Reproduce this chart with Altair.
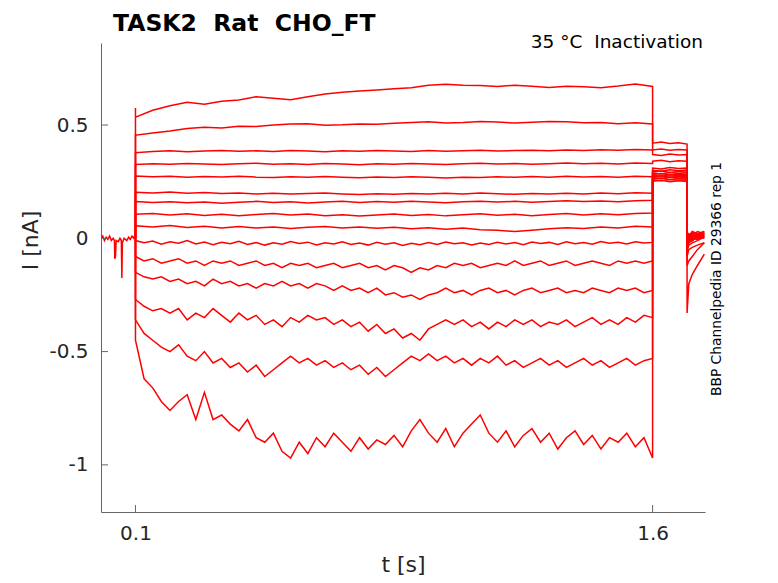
import numpy as np
import pandas as pd
import altair as alt

# ---------------- data ----------------
TRACES = ["A", "B", "C", "D", "E", "F", "G", "H", "I", "J", "K", "L", "M", "N", "O"]
FINE = ["J", "K", "L", "M", "N", "O"]

T_COARSE = [round(0.1 + 0.05 * i, 3) for i in range(31)]
T_FINE = [round(0.1 + 0.025 * i, 3) for i in range(61)]
T_TAIL = [1.6, 1.625, 1.65, 1.675, 1.70]
T_POST = [1.70, 1.705, 1.715, 1.73, 1.75]

# baseline before the step
T_BASE = [0.0, 0.005, 0.01, 0.015, 0.02, 0.025, 0.03, 0.035, 0.039, 0.04, 0.042, 0.044,
          0.05, 0.055, 0.059, 0.0605, 0.062, 0.067, 0.075, 0.08, 0.085, 0.09, 0.095, 0.1]
V_BASE = [0.0, 0.01, -0.01, 0.005, -0.005, 0.01, -0.01, 0.0, -0.01, -0.09, -0.08, -0.01,
          -0.015, 0.0, -0.01, -0.175, -0.02, 0.0, -0.01, 0.005, -0.005, 0.01, 0.0, 0.02]

# value right at the step onset
ONSET = {"A": 0.575, "B": 0.46, "C": 0.38, "D": 0.33, "E": 0.275, "F": 0.205, "G": 0.165,
         "H": 0.11, "I": 0.058, "J": -0.01, "K": -0.08, "L": -0.15, "M": -0.27,
         "N": -0.36, "O": -0.45}

MAIN = {
    "A": [0.535, 0.565, 0.585, 0.60, 0.592, 0.605, 0.61, 0.625, 0.618, 0.612, 0.625,
          0.637, 0.645, 0.65, 0.655, 0.66, 0.665, 0.675, 0.68, 0.676, 0.674, 0.67,
          0.676, 0.671, 0.666, 0.671, 0.669, 0.665, 0.672, 0.681, 0.67],
    "B": [0.455, 0.465, 0.474, 0.485, 0.49, 0.487, 0.495, 0.493, 0.50, 0.504, 0.506,
          0.499, 0.501, 0.505, 0.503, 0.508, 0.511, 0.514, 0.509, 0.511, 0.515, 0.513,
          0.509, 0.512, 0.516, 0.514, 0.51, 0.511, 0.506, 0.51, 0.505],
    "C": [0.378, 0.383, 0.386, 0.382, 0.385, 0.388, 0.384, 0.386, 0.383, 0.387, 0.385,
          0.382, 0.386, 0.384, 0.388, 0.385, 0.383, 0.387, 0.384, 0.386, 0.389, 0.385,
          0.387, 0.389, 0.386, 0.39, 0.388, 0.391, 0.389, 0.392, 0.39],
    "D": [0.326, 0.329, 0.327, 0.33, 0.328, 0.326, 0.329, 0.331, 0.327, 0.329, 0.326,
          0.33, 0.328, 0.325, 0.329, 0.327, 0.33, 0.328, 0.326, 0.329, 0.331, 0.328,
          0.33, 0.327, 0.329, 0.332, 0.329, 0.331, 0.328, 0.332, 0.33],
    "E": [0.275, 0.272, 0.274, 0.27, 0.273, 0.271, 0.274, 0.27, 0.268, 0.272, 0.269,
          0.273, 0.27, 0.267, 0.271, 0.268, 0.272, 0.27, 0.266, 0.27, 0.268, 0.272,
          0.269, 0.273, 0.27, 0.274, 0.271, 0.273, 0.27, 0.274, 0.272],
    "F": [0.203, 0.2, 0.204, 0.199, 0.202, 0.198, 0.2, 0.196, 0.199, 0.195, 0.198,
          0.2, 0.196, 0.193, 0.197, 0.194, 0.198, 0.195, 0.199, 0.196, 0.2, 0.197,
          0.194, 0.198, 0.195, 0.199, 0.196, 0.2, 0.197, 0.201, 0.199],
    "G": [0.162, 0.158, 0.161, 0.157, 0.16, 0.155, 0.159, 0.163, 0.158, 0.161, 0.156,
          0.16, 0.163, 0.158, 0.162, 0.159, 0.163, 0.16, 0.157, 0.161, 0.164, 0.16,
          0.163, 0.159, 0.162, 0.166, 0.162, 0.165, 0.161, 0.166, 0.168],
    "H": [0.106, 0.11, 0.103, 0.108, 0.101, 0.106, 0.1, 0.105, 0.109, 0.103, 0.107,
          0.1, 0.104, 0.098, 0.103, 0.107, 0.101, 0.105, 0.099, 0.104, 0.108, 0.102,
          0.106, 0.1, 0.105, 0.109, 0.103, 0.108, 0.104, 0.11, 0.112],
    "I": [0.055, 0.05, 0.056, 0.048, 0.053, 0.046, 0.052, 0.045, 0.05, 0.043, 0.049,
          0.052, 0.046, 0.05, 0.044, 0.049, 0.042, 0.047, 0.04, 0.045, 0.038, 0.035,
          0.03, 0.036, 0.042, 0.047, 0.043, 0.05, 0.046, 0.053, 0.05],
    "J": [-0.010, -0.020, -0.012, -0.026, -0.015, -0.022, -0.010, -0.025, -0.016, -0.028,
          -0.018, -0.024, -0.013, -0.027, -0.019, -0.030, -0.020, -0.026, -0.014, -0.023,
          -0.017, -0.029, -0.020, -0.025, -0.015, -0.027, -0.021, -0.030, -0.018, -0.026,
          -0.020, -0.032, -0.022, -0.028, -0.019, -0.027, -0.016, -0.024, -0.020, -0.030,
          -0.021, -0.027, -0.017, -0.025, -0.019, -0.028, -0.016, -0.023, -0.018, -0.027,
          -0.015, -0.024, -0.019, -0.026, -0.014, -0.022, -0.017, -0.025, -0.015, -0.021,
          -0.018],
    "K": [-0.08, -0.10, -0.09, -0.11, -0.10, -0.09, -0.11, -0.10, -0.12, -0.10,
          -0.11, -0.10, -0.12, -0.11, -0.10, -0.12, -0.11, -0.13, -0.11, -0.12,
          -0.11, -0.13, -0.12, -0.11, -0.13, -0.12, -0.11, -0.13, -0.12, -0.14,
          -0.12, -0.13, -0.15, -0.13, -0.14, -0.12, -0.13, -0.11, -0.12, -0.11,
          -0.13, -0.12, -0.11, -0.12, -0.10, -0.12, -0.11, -0.10, -0.12, -0.11,
          -0.10, -0.12, -0.11, -0.10, -0.11, -0.12, -0.10, -0.11, -0.10, -0.11,
          -0.10],
    "L": [-0.15, -0.17, -0.18, -0.17, -0.19, -0.18, -0.20, -0.19, -0.21, -0.18,
          -0.20, -0.19, -0.21, -0.20, -0.22, -0.20, -0.21, -0.19, -0.21, -0.20,
          -0.22, -0.20, -0.21, -0.23, -0.21, -0.23, -0.22, -0.24, -0.22, -0.25,
          -0.24, -0.26, -0.25, -0.27, -0.25, -0.24, -0.22, -0.24, -0.23, -0.25,
          -0.23, -0.22, -0.24, -0.23, -0.25, -0.23, -0.22, -0.24, -0.23, -0.22,
          -0.24, -0.23, -0.24, -0.22, -0.23, -0.24, -0.22, -0.23, -0.22, -0.24,
          -0.23],
    "M": [-0.27, -0.30, -0.32, -0.31, -0.33, -0.31, -0.36, -0.33, -0.35, -0.31,
          -0.34, -0.37, -0.33, -0.36, -0.34, -0.38, -0.36, -0.39, -0.35, -0.37,
          -0.34, -0.36, -0.35, -0.38, -0.36, -0.39, -0.37, -0.41, -0.38, -0.42,
          -0.40, -0.44, -0.42, -0.45, -0.40, -0.38, -0.36, -0.38, -0.36, -0.39,
          -0.37, -0.40, -0.37, -0.39, -0.36, -0.38, -0.36, -0.39, -0.37, -0.38,
          -0.36, -0.39, -0.37, -0.35, -0.38, -0.36, -0.38, -0.35, -0.37, -0.34,
          -0.35],
    "N": [-0.36, -0.42, -0.45, -0.48, -0.50, -0.47, -0.52, -0.54, -0.50, -0.55,
          -0.53, -0.57, -0.55, -0.59, -0.56, -0.61, -0.58, -0.55, -0.52, -0.55,
          -0.53, -0.56, -0.54, -0.57, -0.55, -0.58, -0.56, -0.60, -0.57, -0.61,
          -0.58, -0.55, -0.52, -0.54, -0.51, -0.54, -0.52, -0.55, -0.53, -0.56,
          -0.53, -0.55, -0.52, -0.56, -0.54, -0.57, -0.55, -0.53, -0.56, -0.54,
          -0.57, -0.55, -0.53, -0.56, -0.54, -0.57, -0.55, -0.53, -0.56, -0.54,
          -0.53],
    "O": [-0.45, -0.62, -0.66, -0.72, -0.76, -0.72, -0.69, -0.80, -0.68, -0.80,
          -0.78, -0.82, -0.85, -0.80, -0.88, -0.90, -0.86, -0.94, -0.97, -0.90,
          -0.95, -0.88, -0.92, -0.86, -0.90, -0.94, -0.88, -0.93, -0.89, -0.91,
          -0.87, -0.92, -0.85, -0.80, -0.86, -0.90, -0.84, -0.92, -0.86, -0.82,
          -0.78, -0.86, -0.90, -0.85, -0.92, -0.87, -0.84, -0.90, -0.86, -0.93,
          -0.88, -0.85, -0.91, -0.87, -0.93, -0.88, -0.90, -0.86, -0.92, -0.88,
          -0.97],
}

TAIL = {
    "A": [0.42, 0.425, 0.418, 0.422, 0.416],
    "B": [0.39, 0.394, 0.389, 0.392, 0.39],
    "C": [0.37, 0.366, 0.372, 0.368, 0.37],
    "D": [0.34, 0.344, 0.338, 0.342, 0.34],
    "E": [0.31, 0.306, 0.312, 0.308, 0.31],
    "F": [0.30, 0.296, 0.303, 0.298, 0.301],
    "G": [0.293, 0.297, 0.29, 0.295, 0.292],
    "H": [0.288, 0.284, 0.29, 0.286, 0.289],
    "I": [0.282, 0.286, 0.279, 0.284, 0.281],
    "J": [0.278, 0.274, 0.28, 0.276, 0.279],
    "K": [0.272, 0.276, 0.27, 0.274, 0.271],
    "L": [0.268, 0.264, 0.27, 0.266, 0.268],
    "M": [0.262, 0.266, 0.26, 0.264, 0.261],
    "N": [0.258, 0.254, 0.26, 0.256, 0.258],
    "O": [0.252, 0.256, 0.25, 0.254, 0.251],
}

POST = {
    "A": [0.03, 0.01, 0.03, 0.02, 0.03],
    "B": [0.02, 0.0, 0.025, 0.015, 0.03],
    "C": [0.0, 0.02, 0.01, 0.03, 0.02],
    "D": [0.01, -0.01, 0.02, 0.005, 0.02],
    "E": [-0.02, 0.01, 0.0, 0.02, 0.01],
    "F": [0.0, 0.015, -0.005, 0.01, 0.025],
    "G": [-0.01, 0.005, 0.015, 0.0, 0.015],
    "H": [-0.03, -0.005, 0.01, 0.015, 0.005],
    "I": [-0.02, 0.0, -0.01, 0.01, 0.02],
    "J": [-0.04, -0.015, 0.0, -0.005, 0.01],
    "K": [-0.05, -0.02, -0.01, 0.005, 0.0],
    "L": [-0.06, -0.03, -0.02, -0.01, 0.005],
    "M": [-0.08, -0.05, -0.04, -0.03, -0.02],
    "N": [-0.12, -0.10, -0.08, -0.05, -0.02],
    "O": [-0.33, -0.20, -0.16, -0.12, -0.07],
}

X_TICKS = [0.1, 1.6]
Y_TICKS = [0.5, 0, -0.5, -1]
X_DOMAIN = [0.0, 1.752]
Y_DOMAIN = [-1.208, 0.862]

NB = "\u00a0"
TITLE_TEXT = "TASK2" + NB * 2 + "Rat" + NB * 2 + "CHO_FT"
COND_TEXT = "35" + NB + "°C" + NB * 2 + "Inactivation"
SIDE_TEXT = "BBP Channelpedia ID 29366 rep 1"

# ---------------- build tables ----------------
rows = []
for name in TRACES:
    seq = 0
    pts = [(0.1, 0.0), (0.1, ONSET[name])]
    grid = T_FINE if name in FINE else T_COARSE
    pts += list(zip(grid, MAIN[name]))
    pts += list(zip(T_TAIL, TAIL[name]))
    pts += list(zip(T_POST, POST[name]))
    for t, v in pts:
        rows.append({"trace": name, "seq": seq, "t": t, "I": v})
        seq += 1
for i, (t, v) in enumerate(zip(T_BASE, V_BASE)):
    rows.append({"trace": "base", "seq": i, "t": t, "I": v})
df = pd.DataFrame(rows)

FONT = "DejaVu Sans"
AX = "#666666"
TXT = "#262626"
W, H = 604, 469

xenc = alt.X("t:Q", scale=alt.Scale(domain=X_DOMAIN, nice=False, zero=False),
             axis=alt.Axis(values=X_TICKS, labelExpr="toString(datum.value)", title="t [s]",
                           tickSize=0, grid=False, domainColor=AX, labelFont=FONT,
                           labelFontSize=20, labelColor=TXT, labelPadding=11,
                           titleFont=FONT, titleFontSize=22, titleFontWeight="normal",
                           titleColor=TXT, titleX=W / 2, titleY=59, titleBaseline="alphabetic",
                           labelFlush=False))
yenc = alt.Y("I:Q", scale=alt.Scale(domain=Y_DOMAIN, nice=False, zero=False),
             axis=alt.Axis(values=Y_TICKS, labelExpr="toString(datum.value)", title="I [nA]",
                           tickSize=0, grid=False, domainColor=AX, labelFont=FONT,
                           labelFontSize=20, labelColor=TXT, labelPadding=13,
                           titleFont=FONT, titleFontSize=22, titleFontWeight="normal",
                           titleColor=TXT, titleX=-71, titleY=197, titleAngle=270,
                           titleBaseline="middle", titleAlign="center", labelFlush=False))

lines = alt.Chart(df).mark_line(color="#ff0000", strokeWidth=1.5, clip=True).encode(
    x=xenc, y=yenc, detail="trace:N", order="seq:Q")

xt = alt.Chart(pd.DataFrame({"t": X_TICKS})).mark_rule(color=AX, strokeWidth=1).encode(
    x=xenc, y=alt.value(H), y2=alt.value(H - 7))
yt = alt.Chart(pd.DataFrame({"I": Y_TICKS})).mark_rule(color=AX, strokeWidth=1).encode(
    y=yenc, x=alt.value(0), x2=alt.value(7))

title = alt.Chart(pd.DataFrame({"s": [TITLE_TEXT]})).mark_text(
    font=FONT, fontSize=23.5, fontWeight="bold", color="#000000", align="left",
    baseline="alphabetic").encode(text="s:N", x=alt.value(12), y=alt.value(-12.5))
cond = alt.Chart(pd.DataFrame({"s": [COND_TEXT]})).mark_text(
    font=FONT, fontSize=18.5, color="#000000", align="right",
    baseline="alphabetic").encode(text="s:N", x=alt.value(602), y=alt.value(5))
side = alt.Chart(pd.DataFrame({"s": [SIDE_TEXT]})).mark_text(
    font=FONT, fontSize=13.8, color="#000000", align="center", baseline="middle",
    angle=270).encode(text="s:N", x=alt.value(616), y=alt.value(236))

chart = alt.layer(lines, xt, yt, title, cond, side).properties(
    width=W, height=H,
    autosize=alt.AutoSizeParams(type="none"),
    padding={"left": 93, "top": 35, "right": 60, "bottom": 63},
).configure_view(stroke=None)

chart.save("out.html", embed_options={"renderer": "svg", "actions": False})
